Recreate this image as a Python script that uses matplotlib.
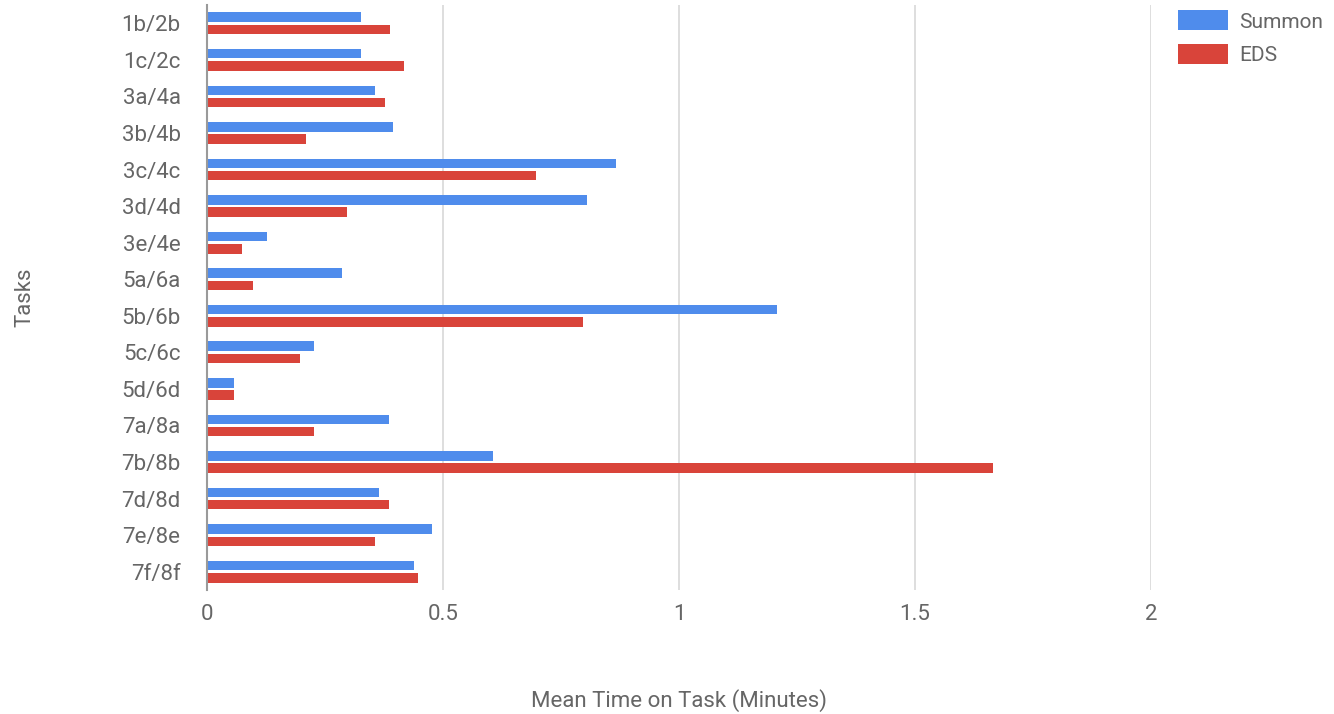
import numpy as np
import matplotlib
matplotlib.use('Agg')
import matplotlib.pyplot as plt

plt.rcParams['font.family'] = ['Roboto', 'DejaVu Sans']

# данные
tasks = ['1b/2b', '1c/2c', '3a/4a', '3b/4b', '3c/4c', '3d/4d', '3e/4e', '5a/6a',
         '5b/6b', '5c/6c', '5d/6d', '7a/8a', '7b/8b', '7d/8d', '7e/8e', '7f/8f']
summon = [0.326, 0.326, 0.356, 0.395, 0.866, 0.805, 0.127, 0.287,
          1.208, 0.227, 0.058, 0.386, 0.606, 0.365, 0.477, 0.438]
eds = [0.387, 0.417, 0.378, 0.210, 0.698, 0.296, 0.075, 0.097,
       0.797, 0.197, 0.058, 0.227, 1.665, 0.386, 0.356, 0.447]
xticks = [0, 0.5, 1, 1.5, 2]
xtick_labels = ['0', '0.5', '1', '1.5', '2']

blue = '#4f8cec'
red = '#d9443a'
grey_text = '#666666'
fs = 16

fig = plt.figure(figsize=(13.34, 7.14), dpi=100)
ax = fig.add_axes([207/1334, 1 - 590/714, (1151 - 207)/1334, 585/714])

y = np.arange(len(tasks))
h = 0.26
off = 0.167
ax.barh(y - off, summon, height=h, color=blue, label='Summon', zorder=3)
ax.barh(y + off, eds, height=h, color=red, label='EDS', zorder=3)

ax.set_xlim(0, 2)
ax.set_ylim(len(tasks) - 0.5, -0.5)

# сетка
ax.set_xticks(xticks)
ax.set_xticklabels(xtick_labels)
ax.grid(axis='x', color='#dedede', linewidth=1.4, zorder=0)
ax.set_yticks(y)
ax.set_yticklabels(tasks)

for s in ['top', 'right', 'bottom']:
    ax.spines[s].set_visible(False)
ax.spines['left'].set_color('#9a9a9a')
ax.spines['left'].set_linewidth(1.5)
ax.spines['left'].set_zorder(4)

ax.tick_params(axis='both', length=0, labelsize=fs, labelcolor=grey_text)
ax.tick_params(axis='y', pad=19)
ax.tick_params(axis='x', pad=10)

ax.set_xlabel('Mean Time on Task (Minutes)', fontsize=fs, color=grey_text, labelpad=46)
ax.set_ylabel('Tasks', fontsize=fs, color=grey_text, labelpad=62)

leg = fig.legend(loc='upper left', bbox_to_anchor=(1168/1334, 1.0), frameon=False,
                 fontsize=15, handlelength=2.4, handleheight=1.1,
                 handletextpad=0.5, labelspacing=0.6, borderaxespad=0.1)
for t in leg.get_texts():
    t.set_color(grey_text)

fig.savefig('out.png', dpi=100, facecolor='white')
